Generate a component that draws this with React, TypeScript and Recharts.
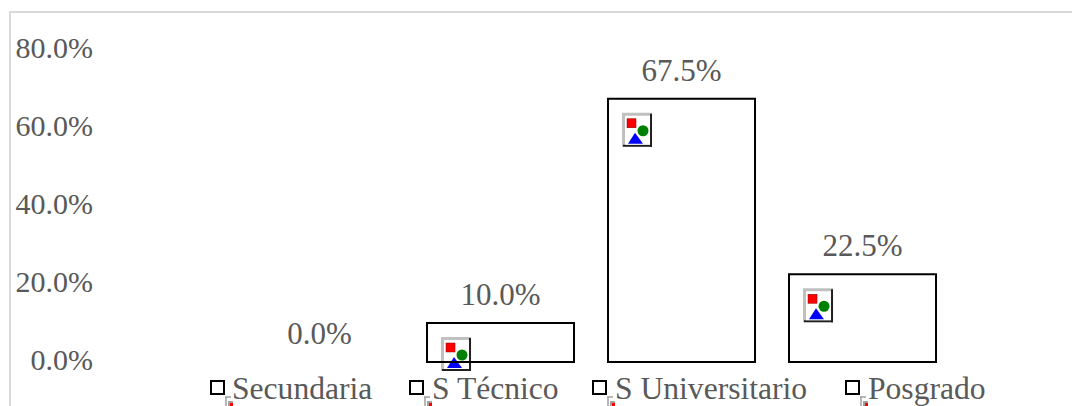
import React from "react";
import { BarChart, Bar, XAxis, YAxis, LabelList, Legend } from "recharts";

const categories = ["Secundaria", "S Técnico", "S Universitario", "Posgrado"];
const shares = [0, 10, 67.5, 22.5];
const yTicks = [0, 20, 40, 60, 80];

const legendIconX = [211, 410, 593, 846];
const legendTextX = [232, 432, 615, 868];

const rows = categories.map((name, i) => ({ name, share: shares[i] }));
const SERIF = "'Liberation Serif', 'Times New Roman', serif";
const GREY = "#595959";

function PlaceholderIcon({ x, y }: { x: number; y: number }) {
  return (
    <g transform={`translate(${x},${y})`}>
      <rect x={0} y={0} width={30} height={34} fill="#c0c0c0" />
      <rect x={28} y={1} width={2} height={33} fill="#202020" />
      <rect x={1} y={32} width={29} height={2} fill="#202020" />
      <rect x={3} y={3} width={25} height={29} fill="#ffffff" />
      <rect x={5} y={6} width={9} height={9} fill="#ff0000" stroke="#800000" strokeWidth={0.5} />
      <circle cx={21} cy={18} r={5.5} fill="#008000" />
      <polygon points="6,31 13,20 21,31" fill="#0000ff" />
    </g>
  );
}

function BoxBar(props: any) {
  const { x, y, width, height } = props;
  if (!height || height <= 0) return null;
  return (
    <g>
      <PlaceholderIcon x={x + 14} y={y + 14} />
      <rect x={x} y={y} width={width} height={height} fill="none" stroke="#000000" strokeWidth={2} />
    </g>
  );
}

function LegendBlock() {
  return (
    <svg width={1072} height={38} style={{ display: "block" }}>
      <g transform="translate(0,-368)">
        {categories.map((name, i) => (
          <g key={name}>
            <rect x={legendIconX[i]} y={381} width={13} height={13} fill="none" stroke="#000000" strokeWidth={2} />
            <path
              d={`M${legendIconX[i] + 14} 397 h6 M${legendIconX[i] + 15} 397 v9`}
              stroke="#a0a0a0"
              strokeWidth={1.5}
              fill="none"
            />
            <rect x={legendIconX[i] + 17} y={401} width={5} height={5} fill="#a0a0a0" />
            <rect x={legendIconX[i] + 19} y={403} width={3} height={3} fill="#ff0000" />
            <text x={legendTextX[i]} y={399} fontFamily={SERIF} fontSize={31.6} fill={GREY}>
              {name}
            </text>
          </g>
        ))}
      </g>
    </svg>
  );
}

export default function App() {
  return (
    <div style={{ position: "absolute", left: 0, top: 0, width: 1072, height: 406, overflow: "hidden", background: "#fff" }}>
      <div
        style={{
          position: "absolute",
          left: 9,
          top: 11,
          width: 1063,
          height: 395,
          borderTop: "2px solid #d9d9d9",
          borderLeft: "2px solid #d9d9d9",
          boxSizing: "border-box",
        }}
      />
      <div style={{ position: "absolute", left: 0, top: 0 }}>
        <BarChart width={1072} height={406} data={rows} barCategoryGap="9.4%" margin={{ top: 50, right: 119, bottom: 6, left: 0 }}>
          <XAxis dataKey="name" hide />
          <YAxis
            width={229}
            domain={[0, 80]}
            ticks={yTicks}
            axisLine={false}
            tickLine={false}
            tickSize={0}
            tickMargin={136}
            tick={{ fontFamily: SERIF, fontSize: 30, fill: GREY, dy: -2.5 }}
            tickFormatter={(v: number) => `${v.toFixed(1)}%`}
          />
          <Legend
            content={<LegendBlock />}
            verticalAlign="bottom"
            wrapperStyle={{ position: "absolute", left: 0, top: 368, width: 1072, height: 38, bottom: "auto" }}
          />
          <Bar dataKey="share" isAnimationActive={false} shape={<BoxBar />}>
            <LabelList
              dataKey="share"
              position="top"
              offset={18}
              formatter={(v: number) => `${v.toFixed(1)}%`}
              style={{ fontFamily: SERIF, fontSize: 31, fill: GREY }}
            />
          </Bar>
        </BarChart>
      </div>
    </div>
  );
}
